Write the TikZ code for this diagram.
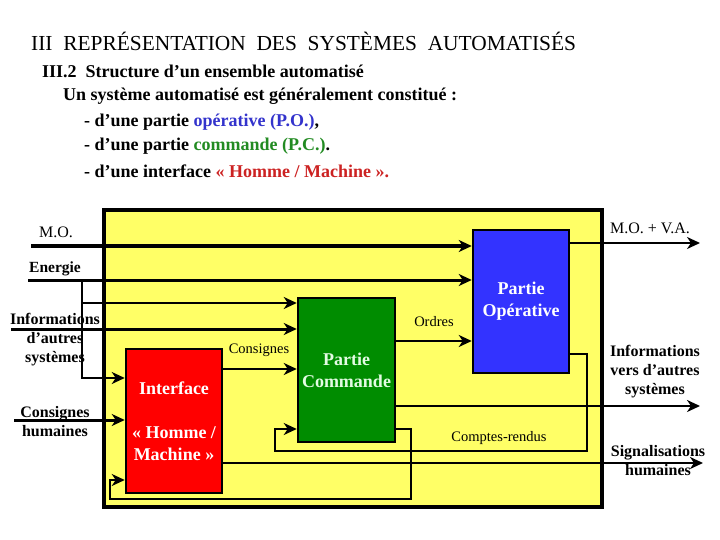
\documentclass[tikz,border=0pt]{standalone}
\usepackage{fontspec}
\setmainfont{Liberation Serif}
\usepackage{xcolor}
\definecolor{syyellow}{RGB}{255,255,102}
\definecolor{hmred}{RGB}{255,0,0}
\definecolor{pcgreen}{RGB}{0,140,0}
\definecolor{poblue}{RGB}{51,51,255}
\definecolor{pctext}{RGB}{228,252,228}
\definecolor{txblue}{RGB}{51,51,204}
\definecolor{txgreen}{RGB}{34,139,34}
\definecolor{txred}{RGB}{204,34,34}
\usetikzlibrary{arrows.meta}

\begin{document}
\begin{tikzpicture}[x=1pt, y=-1pt,
    partbox/.style={rectangle, draw=black, line width=2.5pt, minimum width=96pt,
                    minimum height=144pt, inner sep=0pt, text=white,
                    font=\fontsize{18}{22}\selectfont\bfseries, align=center},
    flow/.style={line width=2.5pt, -{Stealth[length=13pt, width=12pt, inset=4pt]}},
    iolabel/.style={font=\fontsize{16}{19}\selectfont\bfseries, align=center, inner sep=0pt},
    sigtext/.style={font=\fontsize{14.5}{17}\selectfont, inner sep=0pt},
    headline/.style={anchor=west, inner sep=0pt, font=\fontsize{18}{20}\selectfont\bfseries}
  ]
    \useasboundingbox (0,0) rectangle (720,540);

    % Heading
    \node[anchor=west, inner sep=0pt, font=\fontsize{21.4}{24}\selectfont] (title) at (31,41)
      {III\ \ REPRÉSENTATION\ \ DES\ \ SYSTÈMES\ \ AUTOMATISÉS};
    \node[headline] (sect) at (42,71) {III.2\ \ Structure d’un ensemble automatisé};
    \node[headline] (intro) at (63,96) {Un système automatisé est généralement constitué :};
    \node[headline] (itpo) at (84,122) {- d’une partie \textcolor{txblue}{opérative (P.O.)},};
    \node[headline] (itpc) at (84,146) {- d’une partie \textcolor{txgreen}{commande (P.C.)}.};
    \node[headline] (ithm) at (84,171) {- d’une interface \textcolor{txred}{« Homme / Machine ».}};

    % System and its parts
    \node[draw=black, fill=syyellow, line width=3.5pt, minimum width=498pt,
          minimum height=297pt] (sys) at (353,358.5) {};
    \node[partbox, fill=hmred] (iface) at (174,421)
      {Interface\\[22pt]« Homme /\\Machine »};
    \node[partbox, fill=pcgreen, text=pctext, minimum width=97pt] (pc) at (346.5,370)
      {Partie\\Commande};
    \node[partbox, fill=poblue, minimum height=143pt] (po) at (521,301.5)
      {Partie\\Opérative};

    % Free ends and bends
    \coordinate (moin) at (31,246);
    \coordinate (enin) at (28,280);
    \coordinate (enbr) at (82,280);
    \coordinate (enmid) at (82,303);
    \coordinate (enlow) at (82,378);
    \coordinate (infin) at (11,329);
    \coordinate (chin) at (14,420);
    \coordinate (moout) at (700,243);
    \coordinate (infout) at (700,406);
    \coordinate (sigout) at (703,463);
    \coordinate (crbend) at (587,451);
    \coordinate (crback) at (275,451);
    \coordinate (fbbend) at (411,499);
    \coordinate (fbback) at (110,499);

    % Arrows
    \draw[flow, line width=4.5pt] (moin) -- (moin -| po.west);
    \draw[flow, line width=3pt] (enin) -- (enin -| po.west);
    \draw[flow] (enbr) -- (enlow) -- (enlow -| iface.west);
    \draw[flow] (enmid) -- (enmid -| pc.west);
    \draw[flow, line width=3pt] (infin) -- (infin -| pc.west);
    \draw[flow, line width=3pt] (chin) -- (chin -| iface.west);
    \draw[flow] ([yshift=52pt]iface.east) -- ([yshift=52pt]iface.east -| pc.west);
    \draw[flow] ([yshift=29pt]pc.east) -- ([yshift=29pt]pc.east -| po.west);
    \draw[flow] ([yshift=58.5pt]po.east) -- (moout);
    \draw[flow] ([yshift=-36pt]pc.east) -- (infout);
    \draw[flow] ([yshift=-42pt]iface.east) -- (sigout);
    \draw[flow] ([yshift=-52.5pt]po.east) -| (crbend) -- (crback) |- ([yshift=-59pt]pc.west);
    \draw[flow] ([yshift=-59pt]pc.east) -| (fbbend) -- (fbback) |- ([yshift=-59pt]iface.west);

    % Labels
    \node[font=\fontsize{16}{19}\selectfont, inner sep=0pt] (lmo) at (56,232) {M.O.};
    \node[iolabel, font=\fontsize{15.5}{19}\selectfont\bfseries] (len) at (55,269) {Energie};
    \node[iolabel] (linf) at (55,340) {Informations\\d’autres\\systèmes};
    \node[iolabel] (lch) at (55,421.5) {Consignes\\humaines};
    \node[sigtext] (lcons) at (259,350) {Consignes};
    \node[sigtext] (lord) at (434,322) {Ordres};
    \node[sigtext] (lcr) at (499,438) {Comptes-rendus};
    \node[font=\fontsize{16}{19}\selectfont, inner sep=0pt] (lmova) at (650,228) {M.O. + V.A.};
    \node[iolabel] (linfo) at (655,372) {Informations\\vers d’autres\\systèmes};
    \node[iolabel] (lsig) at (658,460.5) {Signalisations\\humaines};
\end{tikzpicture}
\end{document}
